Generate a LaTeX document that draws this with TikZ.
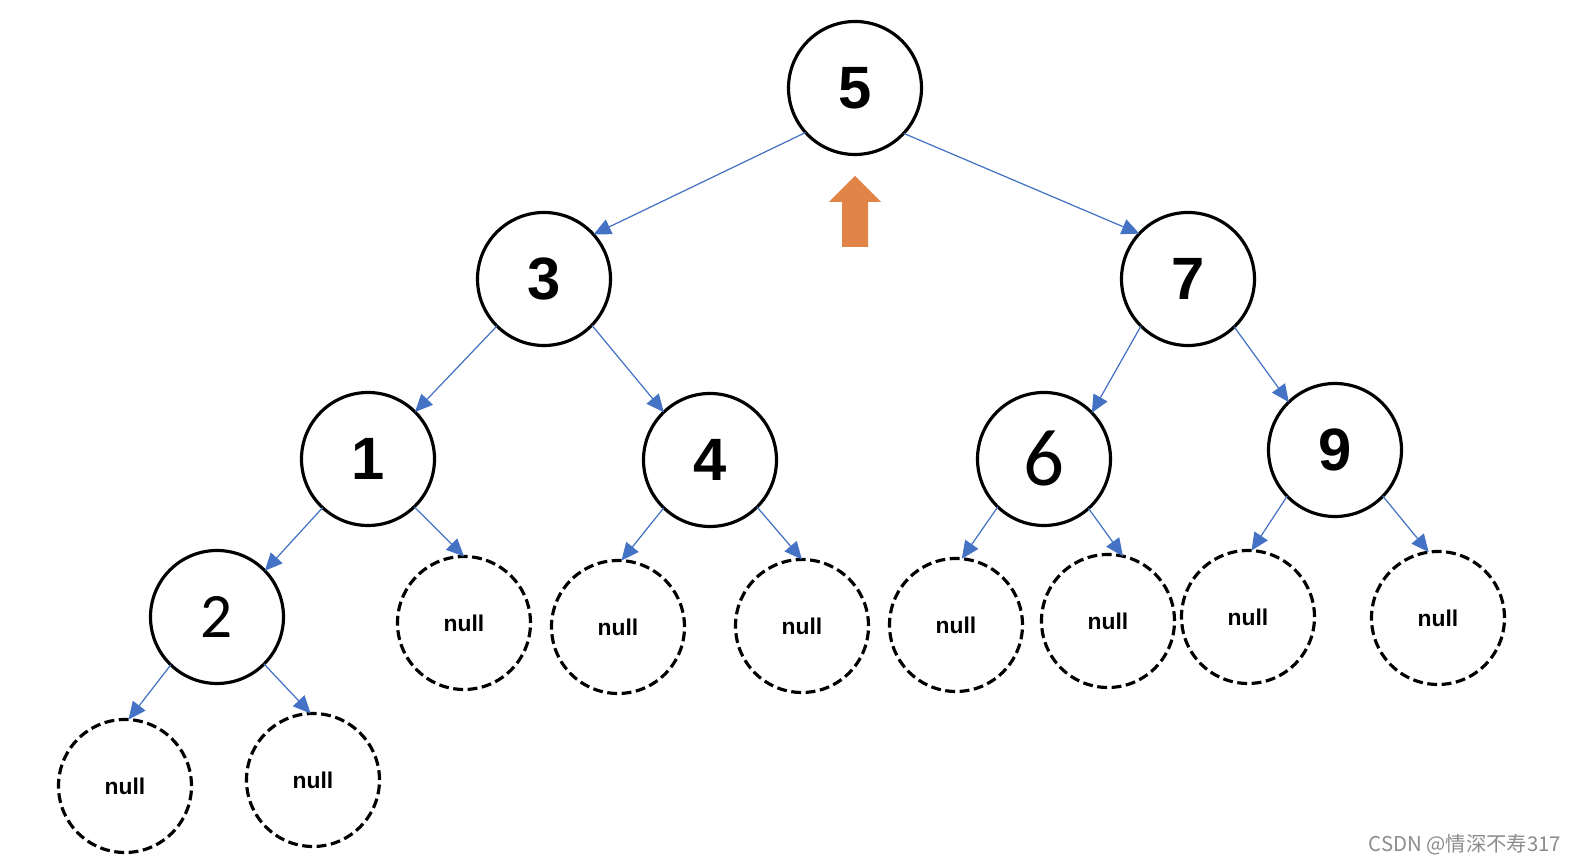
\documentclass[tikz,border=0pt]{standalone}
\usepackage{fontspec}
\setmainfont{Liberation Sans}
\newfontfamily\calfont{Carlito}
\newfontfamily\cjk{Noto Sans CJK SC}
\usetikzlibrary{arrows.meta}
\definecolor{edgeblue}{RGB}{68,114,196}
\definecolor{uporange}{RGB}{224,132,72}

\begin{document}
\begin{tikzpicture}[
  val/.style={circle,draw=black,line width=0.9pt,minimum size=1.33cm,inner sep=0pt,outer sep=0pt,font=\fontsize{17}{20}\selectfont\bfseries},
  nil/.style={val,dash pattern=on 2.8pt off 1.3pt,font=\fontsize{6.5}{8}\selectfont\bfseries},
  edge/.style={draw=edgeblue,line width=0.35pt,-{Triangle[length=5pt,width=4.5pt]}}
]
\useasboundingbox (0,0) rectangle (15.78,-8.64);
% values
\node[val] (n5) at (8.55,-0.88) {5};
\node[val] (n3) at (5.44,-2.79) {3};
\node[val] (n7) at (11.88,-2.79) {7};
\node[val] (n1) at (3.68,-4.59) {1};
\node[val] (n4) at (7.10,-4.60) {4};
\node[val,font=\fontsize{23}{26}\selectfont\calfont] (n6) at (10.44,-4.59) {6};
\node[val] (n9) at (13.35,-4.50) {9};
\node[val,font=\fontsize{18}{21}\selectfont\calfont] (n2) at (2.17,-6.17) {2};
% empty children
\node[nil] (n1r) at (4.64,-6.23) {null};
\node[nil] (n4l) at (6.18,-6.27) {null};
\node[nil] (n4r) at (8.02,-6.26) {null};
\node[nil] (n6l) at (9.56,-6.25) {null};
\node[nil] (n6r) at (11.08,-6.21) {null};
\node[nil] (n9l) at (12.48,-6.17) {null};
\node[nil] (n9r) at (14.38,-6.18) {null};
\node[nil] (n2l) at (1.25,-7.86) {null};
\node[nil] (n2r) at (3.13,-7.80) {null};
% edges
\draw[edge] (n5.222) -- (n3.42);
\draw[edge] (n5.317) -- (n7.137);
\draw[edge] (n3.225) -- (n1.45);
\draw[edge] (n3.316) -- (n4.134);
\draw[edge] (n7.225) -- (n6.44);
\draw[edge] (n7.314) -- (n9.134);
\draw[edge] (n1.227) -- (n2.44);
\draw[edge] (n1.314) -- (n1r.90);
\draw[edge] (n4.226) -- (n4l.87);
\draw[edge] (n4.315) -- (n4r.90);
\draw[edge] (n6.226) -- (n6l.85);
\draw[edge] (n6.312) -- (n6r.77);
\draw[edge] (n9.224) -- (n9l.87);
\draw[edge] (n9.316) -- (n9r.98);
\draw[edge] (n2.226) -- (n2l.87);
\draw[edge] (n2.315) -- (n2r.92);
% up arrow
\fill[uporange] (8.55,-1.76) -- (8.81,-2.02) -- (8.68,-2.02) -- (8.68,-2.47)
  -- (8.42,-2.47) -- (8.42,-2.02) -- (8.29,-2.02) -- cycle;
% watermark
\node[anchor=base east,inner sep=0pt,text=black!45,font=\fontsize{5.8}{7}\selectfont\cjk] (wm) at (15.62,-8.52) {CSDN @情深不寿317};
\end{tikzpicture}
\end{document}
